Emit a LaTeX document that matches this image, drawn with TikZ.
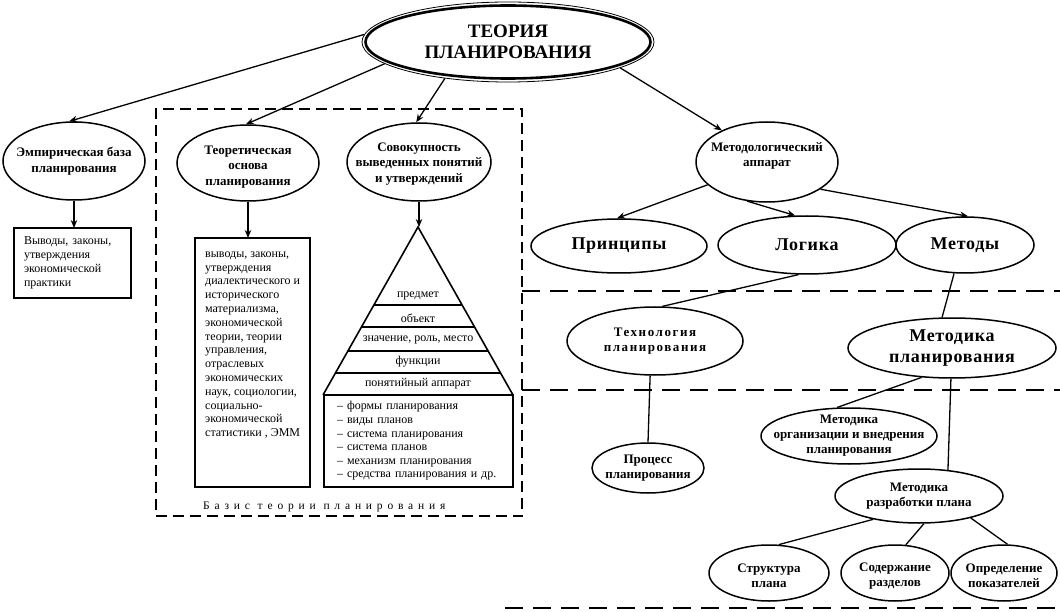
\documentclass[tikz,border=0pt]{standalone}
\usepackage{fontspec}
\setmainfont{Liberation Serif}
\usetikzlibrary{shapes.geometric,arrows.meta,calc}
\begin{document}
\begin{tikzpicture}[x=1pt,y=-1pt,
  ell/.style={draw, ellipse, line width=1.5pt, inner sep=0pt},
  lbl/.style={align=center, inner sep=0pt, font=\bfseries\fontsize{13}{15.5}\selectfont},
  widelbl/.style={align=center, inner sep=0pt, font=\bfseries\fontsize{13}{15}\selectfont\addfontfeature{LetterSpace=12}},
  biglbl/.style={align=center, inner sep=0pt, font=\bfseries\fontsize{18}{21}\selectfont\addfontfeature{LetterSpace=4}},
  titlelbl/.style={align=center, inner sep=0pt, font=\bfseries\fontsize{19}{21}\selectfont},
  box/.style={draw, rectangle, line width=2pt, outer sep=0pt, inner ysep=0pt, align=left},
  arr/.style={line width=1.3pt, -{Stealth[length=8pt,width=6.5pt]}},
  conn/.style={line width=1.3pt},
  basisbox/.style={draw, rectangle, outer sep=0pt, line width=2pt, dash pattern=on 11pt off 6pt},
  hdash/.style={line width=1.7pt, dash pattern=on 18pt off 10pt},
  ptxt/.style={font=\fontsize{12}{14}\selectfont, inner sep=0pt},
  pline/.style={line width=1.6pt}
]
\useasboundingbox (0,0) rectangle (1060,612);

% main title ellipse
\node[ell, line width=0.8pt, minimum width=292, minimum height=80,
  label={[titlelbl]center:{ТЕОРИЯ\\ПЛАНИРОВАНИЯ}}] (main) at (508,42) {};
\draw[line width=2.6pt] (main.center) ellipse [x radius=142.5, y radius=36.5];

% dashed basis box
\node[basisbox, anchor=north west, minimum width=366.5, minimum height=407] (basis) at (155.5,109) {};
\node[font=\fontsize{11.5}{13}\selectfont\addfontfeature{LetterSpace=42}, anchor=west, inner sep=0pt] (basislbl) at (203,507) {Базис теории планирования};

% left ellipses
\node[ell, minimum width=142, minimum height=78,
  label={[lbl]center:{Эмпирическая база\\планирования}}] (emp) at (74,161) {};
\node[ell, minimum width=142, minimum height=76,
  label={[lbl, yshift=-4pt]center:{Теоретическая\\основа\\планирования}}] (teo) at (248,163) {};
\node[ell, minimum width=144, minimum height=78,
  label={[lbl, yshift=-2pt]center:{Совокупность\\выведенных понятий\\и утверждений}}] (sov) at (419,162) {};
\node[ell, minimum width=142, minimum height=80,
  label={[lbl, yshift=6pt]center:{Методологический\\аппарат}}] (met) at (767,162) {};

% boxes
\node[box, anchor=north west, minimum height=70, text width=96.5, inner xsep=10.5,
  font=\fontsize{12}{14}\selectfont] (box1) at (13.5,228)
  {Выводы, законы,\\утверждения\\экономической\\практики};
\node[box, anchor=north west, minimum width=115, minimum height=249] (box2) at (195,238) {};
\node[ptxt, anchor=north west, align=left, font=\fontsize{12}{13.8}\selectfont] (box2t)
  at ($(box2.north west)+(10,10)$)
  {\rule{0pt}{9pt}выводы, законы,\\утверждения\\диалектического и\\исторического\\материализма,\\экономической\\теории, теории\\управления,\\отраслевых\\экономических\\наук, социологии,\\социально-\\экономической\\статистики , ЭММ};

% pyramid
\coordinate (apex) at (418,227);
\coordinate (bl) at (323,395);
\coordinate (br) at (513,395);
\draw[pline] (bl) -- (apex) -- (br);
\foreach \f in {0.4643,0.5952,0.7381,0.869}
  \draw[pline] ($(apex)!\f!(bl)$) -- ($(apex)!\f!(br)$);
\node[ptxt] (p1) at (418,296) {предмет};
\node[ptxt] (p2) at (418,318) {объект};
\node[ptxt] (p3) at (418,340) {значение, роль, место};
\node[ptxt] (p4) at (418,362) {функции};
\node[ptxt] (p5) at (418,384) {понятийный аппарат};
\node[box, anchor=north west, minimum width=189, minimum height=92, inner xsep=13, text width=163,
  font=\fontsize{12}{13.6}\selectfont] (items) at (324,395)
  {– формы планирования\\– виды планов\\– система планирования\\– система планов\\– механизм планирования\\– средства планирования и др.};

% right side ellipses
\node[ell, minimum width=176, minimum height=54, label={[biglbl]center:{Принципы}}] (pri) at (619,246) {};
\node[ell, minimum width=178, minimum height=58, label={[biglbl]center:{Логика}}] (log) at (807,245) {};
\node[ell, minimum width=138, minimum height=56, label={[biglbl]center:{Методы}}] (meth) at (965,245) {};
\node[ell, minimum width=176, minimum height=68, label={[widelbl]center:{Технология\\планирования}}] (tech) at (655,341) {};
\node[ell, minimum width=208, minimum height=60, label={[biglbl]center:{Методика\\планирования}}] (mp) at (952,348) {};
\node[ell, minimum width=112, minimum height=50, label={[lbl]center:{Процесс\\планирования}}] (proc) at (648,468) {};
\node[ell, minimum width=176, minimum height=56, label={[lbl, font=\bfseries\fontsize{13}{15}\selectfont]center:{Методика\\организации и внедрения\\планирования}}] (org) at (849,436) {};
\node[ell, minimum width=168, minimum height=54, label={[lbl]center:{Методика\\разработки плана}}] (razr) at (919,496) {};
\node[ell, minimum width=120, minimum height=56, label={[lbl, yshift=-3pt]center:{Структура\\плана}}] (str) at (769,573) {};
\node[ell, minimum width=108, minimum height=56, label={[lbl, yshift=-3pt]center:{Содержание\\разделов}}] (sod) at (895,573) {};
\node[ell, minimum width=106, minimum height=56, label={[lbl, yshift=-3pt]center:{Определение\\показателей}}] (opr) at (1004,573) {};

% dashed separators
\coordinate (h1a) at (522,291); \coordinate (h1b) at (1060,291);
\coordinate (h2a) at (522,390); \coordinate (h2b) at (1060,390);
\coordinate (h3a) at (505,608); \coordinate (h3b) at (1060,608);
\draw[hdash] (h1a) -- (h1b);
\draw[hdash] (h2a) -- (h2b);
\draw[hdash] (h3a) -- (h3b);

% arrows
\draw[arr] (main.177) -- (emp.97);
\draw[arr] (main.190) -- (teo.93);
\draw[arr] (main.210) -- (sov.94);
\draw[arr] (main.-13) -- (met.145);
\draw[arr] (met.201) -- (pri.94);
\draw[arr] (met.243) -- (log.112);
\draw[arr] (met.-27) -- (meth.84);
\draw[arr] (emp.south) -- (emp.south |- box1.north);
\draw[arr] (teo.south) -- (teo.south |- box2.north);
\draw[arr] (sov.south) -- (sov.south |- apex);

% plain connectors
\draw[conn] (log.254) -- (tech.78);
\draw[conn] (meth.249) -- (mp.108);
\draw[conn] (tech.262) -- (proc.north);
\draw[conn] (mp.224) -- (org.113);
\draw[conn] (mp.268) -- (razr.42);
\draw[conn] (razr.207) -- (str.71);
\draw[conn] (razr.280) -- (sod.69);
\draw[conn] (razr.-23) -- (opr.83);
\end{tikzpicture}
\end{document}
